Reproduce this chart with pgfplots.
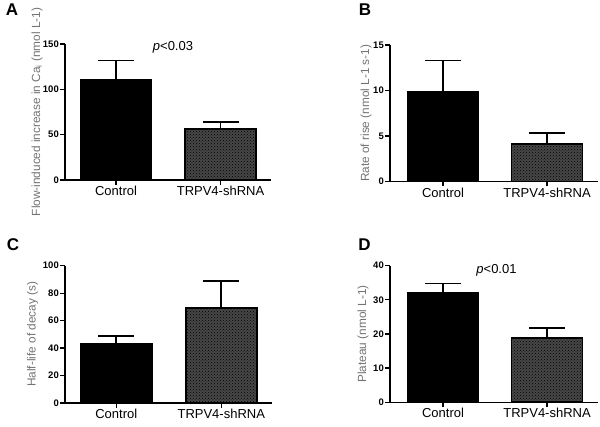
\documentclass[border=0pt]{standalone}
\usepackage{pgfplots}
\pgfplotsset{compat=1.18}
\usepackage{fontspec}
\setmainfont{Liberation Sans}
\usetikzlibrary{patterns}

\pgfplotsset{
  panel/.style={
    scale only axis, anchor=south west,
    axis x line*=bottom, axis y line*=left,
    ymin=0, xtick={1,2}, xticklabels={Control,TRPV4-shRNA},
    tick align=outside, major tick length=5pt,
    every tick/.style={line width=1.3pt, black},
    axis line style={line width=1.3pt, black},
    x tick label style={font=\fontsize{13}{13}\selectfont, inner sep=1pt},
    y tick label style={font=\bfseries\fontsize{9.5}{9.5}\selectfont, inner sep=1pt},
    /pgf/number format/assume math mode=true,
    ylabel style={font=\fontsize{11.8}{11.8}\selectfont, color=black!55, anchor=center},
    ybar, bar width=71pt, bar shift=0pt,
    error bars/y dir=plus, error bars/y explicit,
    error bars/error bar style={line width=1.6pt, black, solid},
    error bars/error mark options={line width=1.6pt, black, mark size=18pt, rotate=90},
  },
  ctrl/.style={fill=black, draw=black, line width=1.6pt},
  shr/.style={fill=black!72, draw=black, line width=1.6pt,
    postaction={pattern=crosshatch dots, pattern color=black}},
}

\begin{document}
\begin{tikzpicture}
\useasboundingbox (0pt,0pt) rectangle (600pt,427pt);

% Panel A
\begin{axis}[panel, at={(65pt,247pt)}, width=206pt, height=136pt,
  xmin=0.512, xmax=2.483, ymax=150, ytick={0,50,100,150},
  ylabel={Flow-induced increase in Ca\textsubscript{i} (nmol L-1)},
  ylabel style={at={(axis description cs:-0.136,0.5)}}]
\addplot[ctrl] coordinates {(1,111) +- (0,21)};
\addplot[shr] coordinates {(2,56) +- (0,8)};
\end{axis}

% Panel B
\begin{axis}[panel, at={(390pt,245.5pt)}, width=208pt, height=136.5pt,
  xmin=0.49, xmax=2.49, ymax=15, ytick={0,5,10,15},
  ylabel={Rate of rise (nmol L-1 s-1)},
  ylabel style={at={(axis description cs:-0.115,0.5)}}]
\addplot[ctrl] coordinates {(1,9.85) +- (0,3.45)};
\addplot[shr] coordinates {(2,4.1) +- (0,1.25)};
\end{axis}

% Panel C
\begin{axis}[panel, at={(65pt,24pt)}, width=207pt, height=137.3pt,
  xmin=0.512, xmax=2.483, ymax=100, ytick={0,20,40,60,80,100},
  ylabel={Half-life of decay (s)},
  ylabel style={at={(axis description cs:-0.157,0.5)}}]
\addplot[ctrl] coordinates {(1,43.2) +- (0,5.8)};
\addplot[shr] coordinates {(2,69.3) +- (0,19.7)};
\end{axis}

% Panel D
\begin{axis}[panel, at={(390pt,24.7pt)}, width=208pt, height=136.6pt,
  xmin=0.49, xmax=2.49, ymax=40, ytick={0,10,20,30,40},
  ylabel={Plateau (nmol L-1)},
  ylabel style={at={(axis description cs:-0.13,0.5)}}]
\addplot[ctrl] coordinates {(1,32.2) +- (0,2.6)};
\addplot[shr] coordinates {(2,18.9) +- (0,2.9)};
\end{axis}

\node[font=\bfseries\fontsize{17}{17}\selectfont] at (12pt,417pt) {A};
\node[font=\bfseries\fontsize{17}{17}\selectfont] at (365pt,417pt) {B};
\node[font=\bfseries\fontsize{17}{17}\selectfont] at (13pt,182.5pt) {C};
\node[font=\bfseries\fontsize{17}{17}\selectfont] at (364.5pt,182.5pt) {D};
\node[font=\fontsize{13}{13}\selectfont] at (173pt,379.5pt) {\textit{p}<0.03};
\node[font=\fontsize{13}{13}\selectfont] at (496.5pt,157pt) {\textit{p}<0.01};
\end{tikzpicture}
\end{document}
